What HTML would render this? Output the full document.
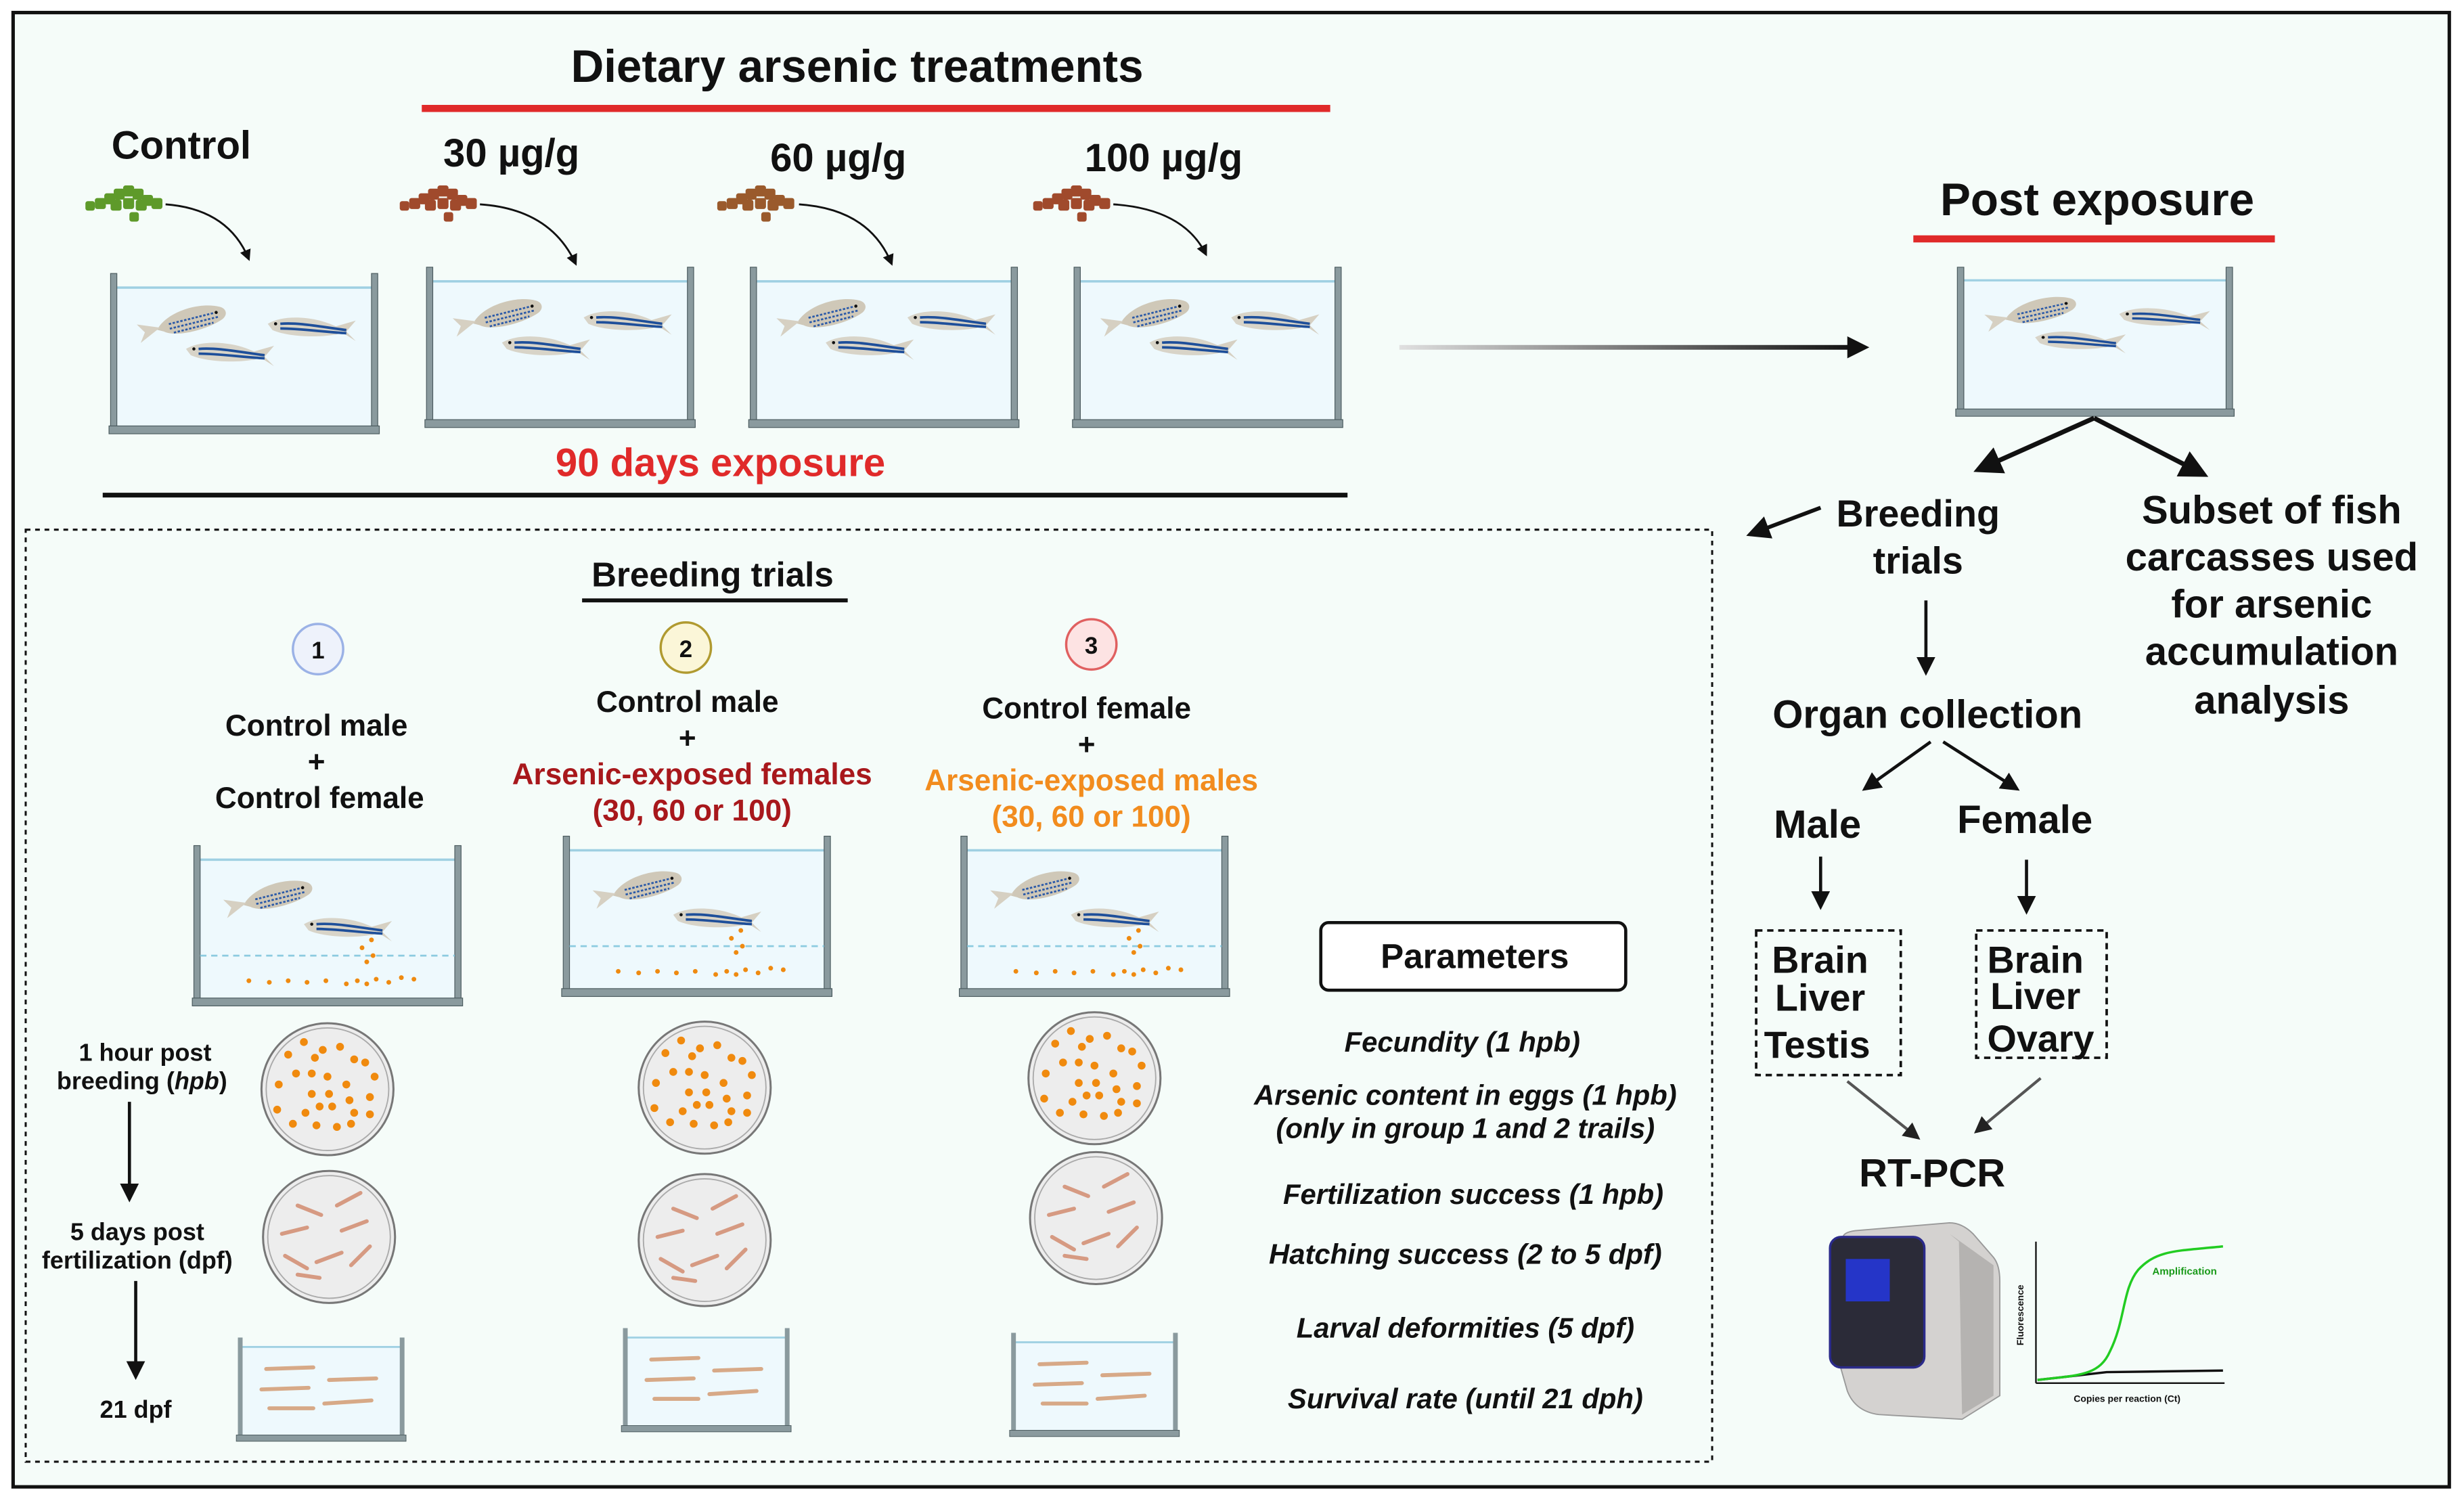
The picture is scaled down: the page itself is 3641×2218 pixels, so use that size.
<!DOCTYPE html>
<html><head><meta charset="utf-8"><style>
html,body{margin:0;padding:0;background:#fff}
svg{display:block}
text{font-family:"Liberation Sans",sans-serif;font-weight:bold;fill:#111}
</style></head><body>
<svg width="3641" height="2218" viewBox="0 0 1567 955" xmlns="http://www.w3.org/2000/svg">
<defs>
  <marker id="ah" markerWidth="6" markerHeight="6" refX="5" refY="3" orient="auto" markerUnits="strokeWidth">
    <path d="M0,0 L6,3 L0,6 Z" fill="#111"/>
  </marker>
  <marker id="ahg" markerWidth="6" markerHeight="6" refX="5" refY="3" orient="auto" markerUnits="strokeWidth">
    <path d="M0,0 L6,3 L0,6 Z" fill="#222"/>
  </marker>
  <linearGradient id="gline" gradientUnits="userSpaceOnUse" x1="890" y1="0" x2="1180" y2="0">
    <stop offset="0" stop-color="#e0e0e0"/><stop offset="1" stop-color="#111"/>
  </linearGradient>
  <g id="fishS">
    <path d="M0,8 C8,-2 30,-4 42,2 C46,4 46,8 42,10 C30,15 10,15 4,10 Z" fill="#cfc8b8"/>
    <path d="M-12,2 L2,7 L-12,14 L-8,8 Z" fill="#d6d0c2"/>
    <path d="M8,6 L38,5 M8,9 L40,8 M10,12 L36,11" stroke="#2b5aa8" stroke-width="1.2" stroke-dasharray="1.5 1"/>
    <circle cx="39" cy="5" r="1" fill="#111"/>
  </g>
  <g id="fishB">
    <path d="M0,4 C10,-2 30,-1 44,6 C48,8 46,11 42,11 C30,13 12,12 3,8 Z" fill="#d8d4c8"/>
    <path d="M42,6 L56,2 L50,9 L56,15 Z" fill="#d6d0c2"/>
    <path d="M8,4 C20,3 34,6 50,8 M8,7 C20,7 34,9 50,10" stroke="#1e4f9a" stroke-width="1.6" fill="none"/>
    <circle cx="5" cy="4" r="1" fill="#111"/>
  </g>
  <g id="tank">
    <rect x="3" y="8" width="164" height="90" fill="#eef9fd"/>
    <line x1="3" y1="9" x2="167" y2="9" stroke="#9fd0e2" stroke-width="1.5"/>
    <rect x="0" y="0" width="4" height="100" fill="#8a9a9e" stroke="#4a5a5e" stroke-width="0.5"/>
    <rect x="166" y="0" width="4" height="100" fill="#8a9a9e" stroke="#4a5a5e" stroke-width="0.5"/>
    <rect x="-1" y="97" width="172" height="5" fill="#8a9a9e" stroke="#4a5a5e" stroke-width="0.5"/>
  </g>
  <g id="tank3">
    <use href="#tank"/>
    <use href="#fishS" transform="translate(28,28) rotate(-12)"/>
    <use href="#fishB" transform="translate(48,44)"/>
    <use href="#fishB" transform="translate(100,28)"/>
  </g>
  <g id="btank">
    <use href="#tank"/>
    <line x1="4" y1="70" x2="166" y2="70" stroke="#8ccbe0" stroke-width="1.2" stroke-dasharray="4 3"/>
    <use href="#fishS" transform="translate(30,30) rotate(-12)"/>
    <use href="#fishB" transform="translate(70,46)"/>
    <g fill="#ef8a10">
      <circle cx="35" cy="86" r="1.5"/><circle cx="48" cy="87" r="1.5"/><circle cx="60" cy="86" r="1.5"/><circle cx="72" cy="87" r="1.5"/><circle cx="84" cy="86" r="1.5"/><circle cx="97" cy="88" r="1.5"/><circle cx="104" cy="86" r="1.5"/><circle cx="110" cy="88" r="1.5"/><circle cx="116" cy="85" r="1.5"/><circle cx="124" cy="87" r="1.5"/><circle cx="132" cy="84" r="1.5"/><circle cx="140" cy="85" r="1.5"/><circle cx="110" cy="74" r="1.5"/><circle cx="114" cy="70" r="1.5"/><circle cx="107" cy="65" r="1.5"/><circle cx="113" cy="60" r="1.5"/>
    </g>
  </g>
  <g id="stank">
    <rect x="2" y="5" width="102" height="58" fill="#eef9fd"/>
    <line x1="2" y1="6" x2="104" y2="6" stroke="#9fd0e2" stroke-width="1.2"/>
    <rect x="0" y="0" width="3" height="64" fill="#8a9a9e"/>
    <rect x="103" y="0" width="3" height="64" fill="#8a9a9e"/>
    <rect x="-1" y="62" width="108" height="4" fill="#8a9a9e" stroke="#4a5a5e" stroke-width="0.4"/>
    <g stroke="#d7a987" stroke-width="2.5" stroke-linecap="round">
      <line x1="18" y1="20" x2="48" y2="19"/><line x1="58" y1="27" x2="88" y2="26"/><line x1="15" y1="33" x2="45" y2="32"/><line x1="55" y1="42" x2="85" y2="40"/><line x1="20" y1="45" x2="48" y2="45"/>
    </g>
  </g>
  <g id="dish">
    <circle r="42" fill="#ededed" stroke="#777" stroke-width="1.3"/>
    <circle r="39" fill="none" stroke="#aaa" stroke-width="0.8"/>
  </g>
  <g id="eggs" fill="#f08a0e">
    <circle cx="-15" cy="-30" r="2.5"/><circle cx="-3" cy="-25" r="2.5"/><circle cx="8" cy="-27" r="2.5"/><circle cx="-25" cy="-22" r="2.5"/><circle cx="-8" cy="-20" r="2.5"/><circle cx="17" cy="-19" r="2.5"/><circle cx="24" cy="-17" r="2.5"/><circle cx="-20" cy="-10" r="2.5"/><circle cx="-10" cy="-10" r="2.5"/><circle cx="0" cy="-8" r="2.5"/><circle cx="30" cy="-8" r="2.5"/><circle cx="-31" cy="-3" r="2.5"/><circle cx="-10" cy="3" r="2.5"/><circle cx="1" cy="3" r="2.5"/><circle cx="12" cy="-3" r="2.5"/><circle cx="14" cy="7" r="2.5"/><circle cx="27" cy="5" r="2.5"/><circle cx="-32" cy="13" r="2.5"/><circle cx="-14" cy="15" r="2.5"/><circle cx="-5" cy="11" r="2.5"/><circle cx="3" cy="11" r="2.5"/><circle cx="17" cy="15" r="2.5"/><circle cx="27" cy="16" r="2.5"/><circle cx="-22" cy="22" r="2.5"/><circle cx="-7" cy="23" r="2.5"/><circle cx="6" cy="24" r="2.5"/><circle cx="15" cy="22" r="2.5"/>
  </g>
  <g id="larv" stroke="#d69a82" stroke-width="2.5" stroke-linecap="round">
    <line x1="-20" y1="-20" x2="-5" y2="-14"/><line x1="5" y1="-20" x2="20" y2="-28"/><line x1="-30" y1="-2" x2="-14" y2="-6"/><line x1="8" y1="-4" x2="24" y2="-10"/><line x1="-28" y1="12" x2="-14" y2="20"/><line x1="-8" y1="16" x2="8" y2="10"/><line x1="14" y1="18" x2="26" y2="6"/><line x1="-20" y1="24" x2="-6" y2="26"/>
  </g>
  <g id="food">
    <rect x="0" y="8" width="7" height="7" rx="1.5"/><rect x="6" y="5" width="7" height="7" rx="1.5"/><rect x="12" y="2" width="7" height="7" rx="1.5"/><rect x="18" y="0" width="7" height="7" rx="1.5"/><rect x="24" y="2" width="7" height="7" rx="1.5"/><rect x="30" y="6" width="7" height="7" rx="1.5"/><rect x="36" y="8" width="7" height="7" rx="1.5"/><rect x="10" y="9" width="7" height="7" rx="1.5"/><rect x="18" y="8" width="7" height="7" rx="1.5"/><rect x="26" y="9" width="7" height="7" rx="1.5"/><rect x="-6" y="10" width="6" height="6" rx="1.5"/><rect x="22" y="17" width="6" height="6" rx="1.5"/>
  </g>
</defs>

<rect x="0" y="0" width="1567" height="955" fill="#fff"/>
<rect x="8" y="8" width="1550" height="938" fill="#f5fcf9" stroke="#111" stroke-width="2.2"/>

<!-- Top -->
<text x="545" y="52" font-size="29" text-anchor="middle">Dietary arsenic treatments</text>
<line x1="268" y1="69" x2="846" y2="69" stroke="#e02a2a" stroke-width="4.5"/>
<text x="115" y="101" font-size="25" text-anchor="middle">Control</text>
<text x="325" y="106" font-size="25" text-anchor="middle">30 µg/g</text>
<text x="533" y="109" font-size="25" text-anchor="middle">60 µg/g</text>
<text x="740" y="109" font-size="25" text-anchor="middle">100 µg/g</text>

<use href="#food" transform="translate(60,118)" fill="#5e9a2a"/>
<use href="#food" transform="translate(260,118)" fill="#a04a2c"/>
<use href="#food" transform="translate(462,118)" fill="#9a5a2c"/>
<use href="#food" transform="translate(663,118)" fill="#a04a2c"/>
<g fill="none" stroke="#111" stroke-width="1.2" marker-end="url(#ah)">
  <path d="M105,130 Q145,133 158,165"/>
  <path d="M305,130 Q350,133 366,168"/>
  <path d="M508,130 Q553,133 567,168"/>
  <path d="M708,130 Q753,133 767,162"/>
</g>

<use href="#tank3" transform="translate(70,174)"/>
<use href="#tank3" transform="translate(271,170)"/>
<use href="#tank3" transform="translate(477,170)"/>
<use href="#tank3" transform="translate(683,170)"/>

<text x="458" y="303" font-size="25" text-anchor="middle" style="fill:#e02a2a">90 days exposure</text>
<line x1="65" y1="315" x2="857" y2="315" stroke="#111" stroke-width="3"/>

<rect x="890" y="219.5" width="290" height="3" fill="url(#gline)"/>
<path d="M1175,214 L1189,221 L1175,228 Z" fill="#111"/>

<text x="1334" y="137" font-size="29" text-anchor="middle">Post exposure</text>
<line x1="1217" y1="152" x2="1447" y2="152" stroke="#e02a2a" stroke-width="4.5"/>
<use href="#tank3" transform="translate(1245,170) scale(1.03,0.93)"/>
<g stroke="#111" stroke-width="3" marker-end="url(#ah)">
  <line x1="1332" y1="266" x2="1258" y2="299"/>
  <line x1="1332" y1="266" x2="1402" y2="302"/>
  <line x1="1158" y1="323" x2="1113" y2="340" stroke-width="2.5"/>
</g>
<text x="1220" y="335" font-size="24" text-anchor="middle">Breeding</text>
<text x="1220" y="365" font-size="24" text-anchor="middle">trials</text>
<g font-size="25" text-anchor="middle">
<text x="1445" y="333">Subset of fish</text>
<text x="1445" y="363">carcasses used</text>
<text x="1445" y="393">for arsenic</text>
<text x="1445" y="423">accumulation</text>
<text x="1445" y="454">analysis</text>
</g>
<g stroke="#111" stroke-width="2" marker-end="url(#ah)">
  <line x1="1225" y1="382" x2="1225" y2="428"/>
  <line x1="1228" y1="472" x2="1186" y2="502"/>
  <line x1="1236" y1="472" x2="1283" y2="502"/>
  <line x1="1158" y1="545" x2="1158" y2="577"/>
  <line x1="1289" y1="547" x2="1289" y2="580"/>
</g>
<text x="1226" y="463" font-size="25" text-anchor="middle">Organ collection</text>
<text x="1156" y="533" font-size="25" text-anchor="middle">Male</text>
<text x="1288" y="530" font-size="25" text-anchor="middle">Female</text>
<rect x="1117" y="592" width="92" height="92" fill="none" stroke="#111" stroke-width="1.6" stroke-dasharray="4 3"/>
<rect x="1257" y="592" width="83" height="81" fill="none" stroke="#111" stroke-width="1.6" stroke-dasharray="4 3"/>
<g font-size="24">
<text x="1127" y="619">Brain</text><text x="1129" y="643">Liver</text><text x="1122" y="673">Testis</text>
<text x="1264" y="619">Brain</text><text x="1266" y="642">Liver</text><text x="1264" y="669">Ovary</text>
</g>
<g stroke="#555" stroke-width="1.8" marker-end="url(#ahg)">
  <line x1="1175" y1="688" x2="1220" y2="724"/>
  <line x1="1298" y1="686" x2="1257" y2="720"/>
</g>
<text x="1229" y="755" font-size="25" text-anchor="middle">RT-PCR</text>

<!-- PCR machine -->
<path d="M1172,788 Q1172,784 1180,783 L1240,778 Q1248,778 1255,785 L1268,800 Q1272,805 1272,815 L1272,888 L1248,903 L1195,900 Q1180,898 1175,885 L1165,850 Z" fill="#d4d2d0" stroke="#999" stroke-width="0.8"/>
<path d="M1240,785 L1268,805 L1268,888 L1248,900 L1246,790 Z" fill="#b5b3b1"/>
<rect x="1164" y="787" width="60" height="83" rx="7" fill="#2b2b38" stroke="#2a2a8a" stroke-width="1.5"/>
<rect x="1174" y="801" width="28" height="27" fill="#2535c8"/>
<line x1="1295" y1="790" x2="1295" y2="880" stroke="#111" stroke-width="1"/>
<line x1="1295" y1="880" x2="1415" y2="880" stroke="#111" stroke-width="1"/>
<path d="M1296,878 L1340,873 L1414,872" stroke="#111" stroke-width="1.5" fill="none"/>
<path d="M1296,878 C1320,875 1335,876 1342,860 C1352,840 1350,820 1360,808 C1372,795 1385,796 1414,793" stroke="#22cc22" stroke-width="1.5" fill="none"/>
<text x="1369" y="811" font-size="6.5" style="fill:#1a9a1a">Amplification</text>
<text x="1287" y="856" font-size="6" transform="rotate(-90 1287 856)">Fluorescence</text>
<text x="1353" y="892" font-size="6" text-anchor="middle">Copies per reaction (Ct)</text>

<!-- Dotted box -->
<rect x="16" y="337" width="1073" height="593" fill="none" stroke="#111" stroke-width="1.3" stroke-dasharray="3 3"/>
<text x="453" y="373" font-size="22" text-anchor="middle">Breeding trials</text>
<line x1="370" y1="382" x2="539" y2="382" stroke="#111" stroke-width="2.5"/>

<circle cx="202" cy="413" r="16" fill="#eef2fb" stroke="#9bb2e6" stroke-width="1.5"/>
<text x="202" y="419" font-size="15" text-anchor="middle">1</text>
<circle cx="436" cy="412" r="16" fill="#fbf6d8" stroke="#b09a30" stroke-width="1.5"/>
<text x="436" y="418" font-size="15" text-anchor="middle">2</text>
<circle cx="694" cy="410" r="16" fill="#fde3e3" stroke="#e06060" stroke-width="1.5"/>
<text x="694" y="416" font-size="15" text-anchor="middle">3</text>

<g font-size="19" text-anchor="middle">
<text x="201" y="468">Control male</text>
<text x="201" y="491">+</text>
<text x="203" y="514">Control female</text>
<text x="437" y="453">Control male</text>
<text x="437" y="476">+</text>
<text x="440" y="499" style="fill:#a8181c">Arsenic-exposed females</text>
<text x="440" y="522" style="fill:#a8181c">(30, 60 or 100)</text>
<text x="691" y="457">Control female</text>
<text x="691" y="480">+</text>
<text x="694" y="503" style="fill:#f28c1e">Arsenic-exposed males</text>
<text x="694" y="526" style="fill:#f28c1e">(30, 60 or 100)</text>
</g>

<use href="#btank" transform="translate(123,538)"/>
<use href="#btank" transform="translate(358,532)"/>
<use href="#btank" transform="translate(611,532)"/>

<use href="#dish" transform="translate(208,693)"/><use href="#eggs" transform="translate(208,693)"/>
<use href="#dish" transform="translate(448,692)"/><use href="#eggs" transform="translate(448,692)"/>
<use href="#dish" transform="translate(696,686)"/><use href="#eggs" transform="translate(696,686)"/>
<use href="#dish" transform="translate(209,787)"/><use href="#larv" transform="translate(209,787)"/>
<use href="#dish" transform="translate(448,789)"/><use href="#larv" transform="translate(448,789)"/>
<use href="#dish" transform="translate(697,775)"/><use href="#larv" transform="translate(697,775)"/>

<use href="#stank" transform="translate(151,851)"/>
<use href="#stank" transform="translate(396,845)"/>
<use href="#stank" transform="translate(643,848)"/>

<g font-size="15.5" text-anchor="middle">
<text x="92" y="675">1 hour post</text>
<text x="90" y="693">breeding (<tspan font-style="italic">hpb</tspan>)</text>
<text x="87" y="789">5 days post</text>
<text x="87" y="807">fertilization (dpf)</text>
<text x="86" y="902">21 dpf</text>
</g>
<g stroke="#111" stroke-width="2" marker-end="url(#ah)">
  <line x1="82" y1="701" x2="82" y2="763"/>
  <line x1="86" y1="815" x2="86" y2="876"/>
</g>

<rect x="840" y="587" width="194" height="43" rx="5" fill="#fff" stroke="#111" stroke-width="2"/>
<text x="938" y="616" font-size="22" text-anchor="middle">Parameters</text>
<g font-size="18" text-anchor="middle" font-style="italic">
<text x="930" y="669">Fecundity (1 hpb)</text>
<text x="932" y="703">Arsenic content in eggs  (1 hpb)</text>
<text x="932" y="724">(only in group 1 and 2 trails)</text>
<text x="937" y="766">Fertilization success (1 hpb)</text>
<text x="932" y="804">Hatching success (2 to 5 dpf)</text>
<text x="932" y="851">Larval deformities (5 dpf)</text>
<text x="932" y="896">Survival rate (until 21 dph)</text>
</g>
</svg>
</body></html>
